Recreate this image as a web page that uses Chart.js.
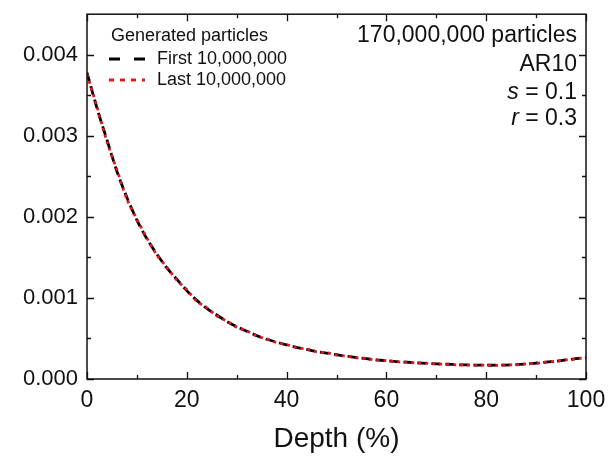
<!DOCTYPE html>
<html>
<head>
<meta charset="utf-8">
<script src="https://cdn.jsdelivr.net/npm/chart.js@4/dist/chart.umd.min.js"></script>
<style>
  html, body { margin: 0; padding: 0; background: #fff; }
  #wrap { width: 608px; height: 456px; }
</style>
</head>
<body>
<div id="wrap"><canvas id="DepthChart" width="608" height="456"></canvas></div>
<script>
var depth = [0, 2, 4, 6, 8, 10, 12, 14, 16, 18, 20, 22, 24, 26, 28, 30, 32, 34, 36, 38, 40,
             42, 44, 46, 48, 50, 52, 54, 56, 58, 60, 62, 64, 66, 68, 70, 72, 74, 76, 78, 80,
             82, 84, 86, 88, 90, 92, 94, 96, 98, 100];
var firstValues = [0.00378, 0.00334, 0.00295, 0.00256, 0.00224, 0.00196, 0.00173, 0.00154, 0.00137, 0.00123,
                   0.00109, 0.00097, 0.00087, 0.00079, 0.00071, 0.000645, 0.00059, 0.000535, 0.00049, 0.000455,
                   0.00042, 0.00039, 0.000365, 0.00034, 0.00032, 0.0003, 0.00028, 0.000265, 0.00025, 0.000235,
                   0.000225, 0.000215, 0.000207, 0.0002, 0.000193, 0.000187, 0.000182, 0.000177, 0.000173, 0.000171,
                   0.00017, 0.00017, 0.000172, 0.000177, 0.000185, 0.000195, 0.000207, 0.00022, 0.000235, 0.00025,
                   0.000265];
var lastValues = [0.00376, 0.00336, 0.00293, 0.00258, 0.00222, 0.00197, 0.00174, 0.00153, 0.00138, 0.00122,
                  0.0011, 0.00096, 0.00088, 0.00078, 0.000715, 0.00064, 0.000595, 0.00053, 0.000495, 0.00045,
                  0.000425, 0.000385, 0.00037, 0.000335, 0.000325, 0.000295, 0.000283, 0.000262, 0.000252, 0.000232,
                  0.000227, 0.000212, 0.000209, 0.000198, 0.000195, 0.000185, 0.000184, 0.000175, 0.000175, 0.000169,
                  0.000172, 0.000168, 0.000174, 0.000175, 0.000187, 0.000193, 0.000209, 0.000218, 0.000237, 0.000248,
                  0.000267];
var seriesNames = ['First 10,000,000', 'Last 10,000,000'];
var xTicks = [0, 20, 40, 60, 80, 100];
var xMinorTicks = [10, 30, 50, 70, 90];
var yTicks = [0, 0.001, 0.002, 0.003, 0.004];
var yMinorTicks = [0.0005, 0.0015, 0.0025, 0.0035];
var legendTitle = 'Generated particles';
var noteLines = ['170,000,000 particles', 'AR10', 's = 0.1', 'r = 0.3'];

var fontFam = '"Liberation Sans", Arial, Helvetica, sans-serif';
var ink = '#111111';

function toPoints(ys) {
    return depth.map(function (d, i) { return { x: d, y: ys[i] }; });
}

// frame with inward ticks, legend and the note in the top right
var decorPlugin = {
    id: 'decor',
    afterDraw: function (chart) {
        var ctx = chart.ctx;
        var a = chart.chartArea;
        var xs = chart.scales.x, ys = chart.scales.y;
        ctx.save();
        ctx.strokeStyle = ink;
        ctx.lineWidth = 1.5;
        ctx.strokeRect(a.left, a.top, a.right - a.left, a.bottom - a.top);

        ctx.beginPath();
        function xt(v, len) {
            var p = Math.round(xs.getPixelForValue(v)) + 0.5;
            ctx.moveTo(p, a.bottom); ctx.lineTo(p, a.bottom - len);
            ctx.moveTo(p, a.top); ctx.lineTo(p, a.top + len);
        }
        function yt(v, len) {
            var p = Math.round(ys.getPixelForValue(v)) + 0.5;
            ctx.moveTo(a.left, p); ctx.lineTo(a.left + len, p);
            ctx.moveTo(a.right, p); ctx.lineTo(a.right - len, p);
        }
        xTicks.forEach(function (v) { xt(v, 7); });
        xMinorTicks.forEach(function (v) { xt(v, 4); });
        yTicks.forEach(function (v) { yt(v, 7); });
        yMinorTicks.forEach(function (v) { yt(v, 4); });
        ctx.lineWidth = 1.3;
        ctx.stroke();

        // legend
        ctx.fillStyle = ink;
        ctx.textBaseline = 'middle';
        ctx.textAlign = 'left';
        ctx.font = '18px ' + fontFam;
        ctx.fillText(legendTitle, 111, 36);
        var rows = [59, 80];
        var dashes = [[11, 14], [5, 6]];
        chart.data.datasets.forEach(function (ds, i) {
            ctx.save();
            ctx.strokeStyle = ds.borderColor;
            ctx.lineWidth = 3;
            ctx.setLineDash(dashes[i]);
            ctx.beginPath();
            ctx.moveTo(109, rows[i]);
            ctx.lineTo(145, rows[i]);
            ctx.stroke();
            ctx.restore();
            ctx.fillText(ds.label, 157, rows[i]);
        });

        // note
        ctx.textAlign = 'right';
        var noteY = [36, 65, 93, 119];
        var rx = 577;
        ctx.font = '23px ' + fontFam;
        ctx.fillText(noteLines[0], rx, noteY[0]);
        ctx.fillText(noteLines[1], rx, noteY[1]);
        [2, 3].forEach(function (k) {
            var rest = noteLines[k].slice(1);
            ctx.font = '23px ' + fontFam;
            var w = ctx.measureText(rest).width;
            ctx.fillText(rest, rx, noteY[k]);
            ctx.font = 'italic 23px ' + fontFam;
            ctx.fillText(noteLines[k].charAt(0), rx - w, noteY[k]);
        });
        ctx.restore();
    }
};

new Chart('DepthChart', {
    type: 'line',
    data: {
        datasets: [{
            label: seriesNames[0],
            data: toPoints(firstValues),
            borderColor: '#000000',
            borderWidth: 2.8,
            borderDash: [9, 5],
            pointRadius: 0,
            tension: 0.3,
            order: 2
        }, {
            label: seriesNames[1],
            data: toPoints(lastValues),
            borderColor: '#e8141b',
            borderWidth: 2.8,
            borderDash: [3, 4],
            pointRadius: 0,
            tension: 0.3,
            order: 1
        }]
    },
    options: {
        responsive: false,
        animation: false,
        layout: { padding: { top: 11, right: 22, left: 0, bottom: 0 } },
        plugins: {
            legend: { display: false },
            tooltip: { enabled: false }
        },
        scales: {
            x: {
                type: 'linear',
                min: 0,
                max: 100,
                grid: { display: false },
                border: { display: false },
                afterBuildTicks: function (s) { s.ticks = xTicks.map(function (v) { return { value: v }; }); },
                afterFit: function (s) { s.height = 77; },
                ticks: {
                    color: ink,
                    padding: 0,
                    maxRotation: 0,
                    font: { family: fontFam, size: 23 }
                },
                title: {
                    display: true,
                    text: 'Depth (%)',
                    color: ink,
                    padding: { top: 4, bottom: 0 },
                    font: { family: fontFam, size: 28 }
                }
            },
            y: {
                min: 0,
                max: 0.0045,
                grid: { display: false },
                border: { display: false },
                afterBuildTicks: function (s) { s.ticks = yTicks.map(function (v) { return { value: v }; }); },
                afterFit: function (s) { s.width = 87; },
                ticks: {
                    color: ink,
                    padding: 1,
                    font: { family: fontFam, size: 22 },
                    callback: function (v) { return v.toFixed(3); }
                }
            }
        }
    },
    plugins: [decorPlugin]
});
</script>
</body>
</html>
